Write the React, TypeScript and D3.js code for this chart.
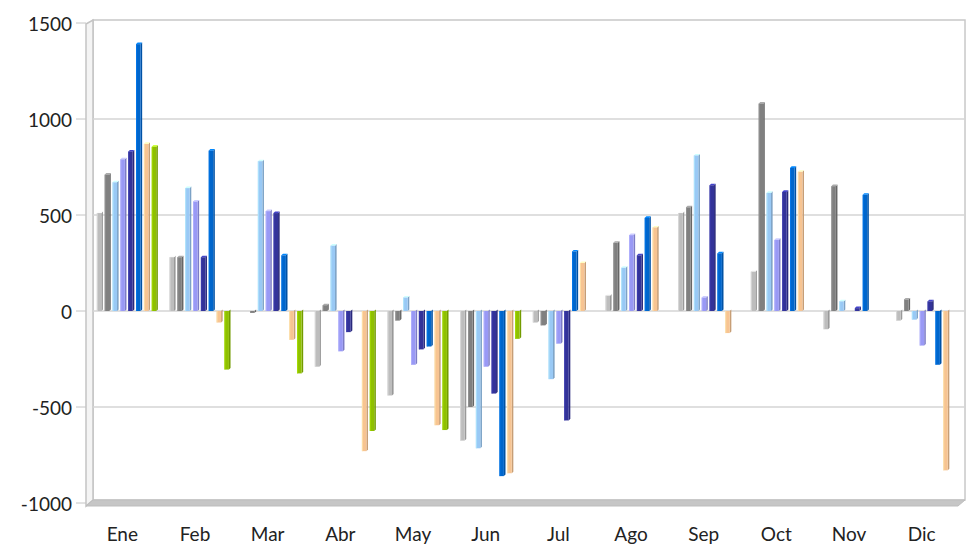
import React, { useEffect, useRef } from "react";
import * as d3 from "d3";

const months = ["Ene", "Feb", "Mar", "Abr", "May", "Jun", "Jul", "Ago", "Sep", "Oct", "Nov", "Dic"];
const yTicks = [-1000, -500, 0, 500, 1000, 1500];

// one array per series (null = no bar)
const serie1 = [510, 280, null, -290, -440, -675, -60, 80, 510, 205, -95, -50];
const serie2 = [710, 280, -10, 30, -50, -500, -75, 355, 540, 1080, 650, 60];
const serie3 = [670, 640, 780, 340, 70, -715, -355, 225, 810, 615, 50, -45];
const serie4 = [790, 570, 520, -210, -280, -290, -170, 395, 70, 370, null, -180];
const serie5 = [830, 280, 510, -110, -200, -430, -570, 290, 655, 620, 15, 50];
const serie6 = [1390, 835, 290, null, -185, -860, 310, 485, 300, 745, 605, -280];
const serie7 = [870, -60, -150, -730, -595, -845, 250, 435, -115, 725, null, -830];
const serie8 = [855, -305, -325, -625, -620, -145, null, null, null, null, null, null];

const seriesNames = ["S1", "S2", "S3", "S4", "S5", "S6", "S7", "S8"];
const seriesValues = [serie1, serie2, serie3, serie4, serie5, serie6, serie7, serie8];
const seriesColors = ["#bdbdbd", "#808080", "#99c9f5", "#9999f5", "#333399", "#0066cc", "#f7c492", "#8fc000"];

type Bar = { month: string; serie: string; value: number; color: string };

const App = () => {
  const svgRef = useRef<SVGSVGElement>(null);

  useEffect(() => {
    const width = 969;
    const height = 551;
    const frontX = 86;
    const backX = 93;
    const rightX = 965;
    const topY = 20;
    const floorBack = 500;
    const floorFront = 506;

    const svg = d3.select(svgRef.current);
    svg.selectAll("*").remove();
    svg.attr("width", width).attr("height", height);

    const y = d3.scaleLinear().domain([-1000, 1500]).range([503, 23]);

    const x = d3.scaleBand<string>().domain(months).range([91, 963]).paddingInner(0.16).paddingOuter(0.08);
    const xs = d3.scaleBand<string>().domain(seriesNames).range([0, x.bandwidth()]).paddingInner(0.22);
    const xLabel = d3.scaleBand<string>().domain(months).range([frontX, rightX - 7]);

    // back wall
    svg.append("rect")
      .attr("x", backX).attr("y", topY)
      .attr("width", rightX - backX).attr("height", floorBack - topY)
      .attr("fill", "#fff").attr("stroke", "#c8c8c8").attr("stroke-width", 1.5);

    // left side wall
    svg.append("polygon")
      .attr("points", `${frontX},${topY + 4} ${backX},${topY} ${backX},${floorBack} ${frontX},${floorFront}`)
      .attr("fill", "#f4f4f4").attr("stroke", "#c4c4c4").attr("stroke-width", 1.5);

    // gridlines
    svg.selectAll("line.grid")
      .data(yTicks.filter((t) => t > -1000 && t < 1500))
      .join("line")
      .attr("class", "grid")
      .attr("x1", backX).attr("x2", rightX)
      .attr("y1", (d) => y(d)).attr("y2", (d) => y(d))
      .attr("stroke", "#d4d4d4").attr("stroke-width", 1.5);

    // floor
    svg.append("polygon")
      .attr("points", `${frontX},${floorFront} ${backX},${floorBack} ${rightX},${floorBack} ${rightX - 7},${floorFront}`)
      .attr("fill", "#c6c6c6").attr("stroke", "#bdbdbd").attr("stroke-width", 1);

    // y ticks and labels
    svg.selectAll("line.tick")
      .data(yTicks)
      .join("line")
      .attr("class", "tick")
      .attr("x1", 76).attr("x2", frontX)
      .attr("y1", (d) => y(d)).attr("y2", (d) => y(d))
      .attr("stroke", "#c4c4c4").attr("stroke-width", 1);

    svg.selectAll("text.ylab")
      .data(yTicks)
      .join("text")
      .attr("class", "ylab")
      .attr("x", 72)
      .attr("y", (d) => y(d))
      .attr("text-anchor", "end")
      .attr("dominant-baseline", "central")
      .attr("font-family", "Lato, sans-serif")
      .attr("font-size", 19)
      .attr("fill", "#222")
      .text((d) => d);

    // month labels
    svg.selectAll("text.xlab")
      .data(months)
      .join("text")
      .attr("class", "xlab")
      .attr("x", (d) => (xLabel(d) as number) + xLabel.bandwidth() / 2)
      .attr("y", 541)
      .attr("text-anchor", "middle")
      .attr("font-family", "Lato, sans-serif")
      .attr("font-size", 19)
      .attr("fill", "#222")
      .text((d) => d);

    const bars: Bar[] = [];
    seriesValues.forEach((vals, si) => {
      vals.forEach((v, mi) => {
        if (v === null) return;
        bars.push({ month: months[mi], serie: seriesNames[si], value: v, color: seriesColors[si] });
      });
    });

    const w = xs.bandwidth();
    const side = 1.6;
    const g = svg.append("g");

    const bx = (d: Bar) => (x(d.month) as number) + (xs(d.serie) as number);
    const top = (d: Bar) => Math.min(y(d.value), y(0));
    const bot = (d: Bar) => Math.max(y(d.value), y(0));

    // side face (darker)
    g.selectAll("polygon.side")
      .data(bars)
      .join("polygon")
      .attr("class", "side")
      .attr("points", (d) => {
        const x1 = bx(d) + w - side;
        const x2 = bx(d) + w;
        return `${x1},${top(d)} ${x2},${top(d) - side} ${x2},${bot(d) - side} ${x1},${bot(d)}`;
      })
      .attr("fill", (d) => d3.color(d.color)!.darker(0.6).toString());

    // top cap (lighter)
    g.selectAll("polygon.cap")
      .data(bars.filter((d) => d.value > 0))
      .join("polygon")
      .attr("class", "cap")
      .attr("points", (d) => {
        const x0 = bx(d);
        const x1 = bx(d) + w - side;
        const yt = top(d);
        return `${x0},${yt} ${x0 + side},${yt - side} ${x1 + side},${yt - side} ${x1},${yt}`;
      })
      .attr("fill", (d) => d3.color(d.color)!.brighter(0.8).toString());

    // front face
    g.selectAll("rect.front")
      .data(bars)
      .join("rect")
      .attr("class", "front")
      .attr("x", bx)
      .attr("y", top)
      .attr("width", w - side)
      .attr("height", (d) => Math.max(1, bot(d) - top(d)))
      .attr("fill", (d) => d.color);

    // light highlight on the left edge
    g.selectAll("rect.hi")
      .data(bars)
      .join("rect")
      .attr("class", "hi")
      .attr("x", bx)
      .attr("y", top)
      .attr("width", 1)
      .attr("height", (d) => Math.max(1, bot(d) - top(d)))
      .attr("fill", (d) => d3.color(d.color)!.brighter(0.5).toString())
      .attr("opacity", 0.7);
  }, []);

  return <svg ref={svgRef} style={{ position: "absolute", left: 0, top: 0 }}></svg>;
};

export default App;
